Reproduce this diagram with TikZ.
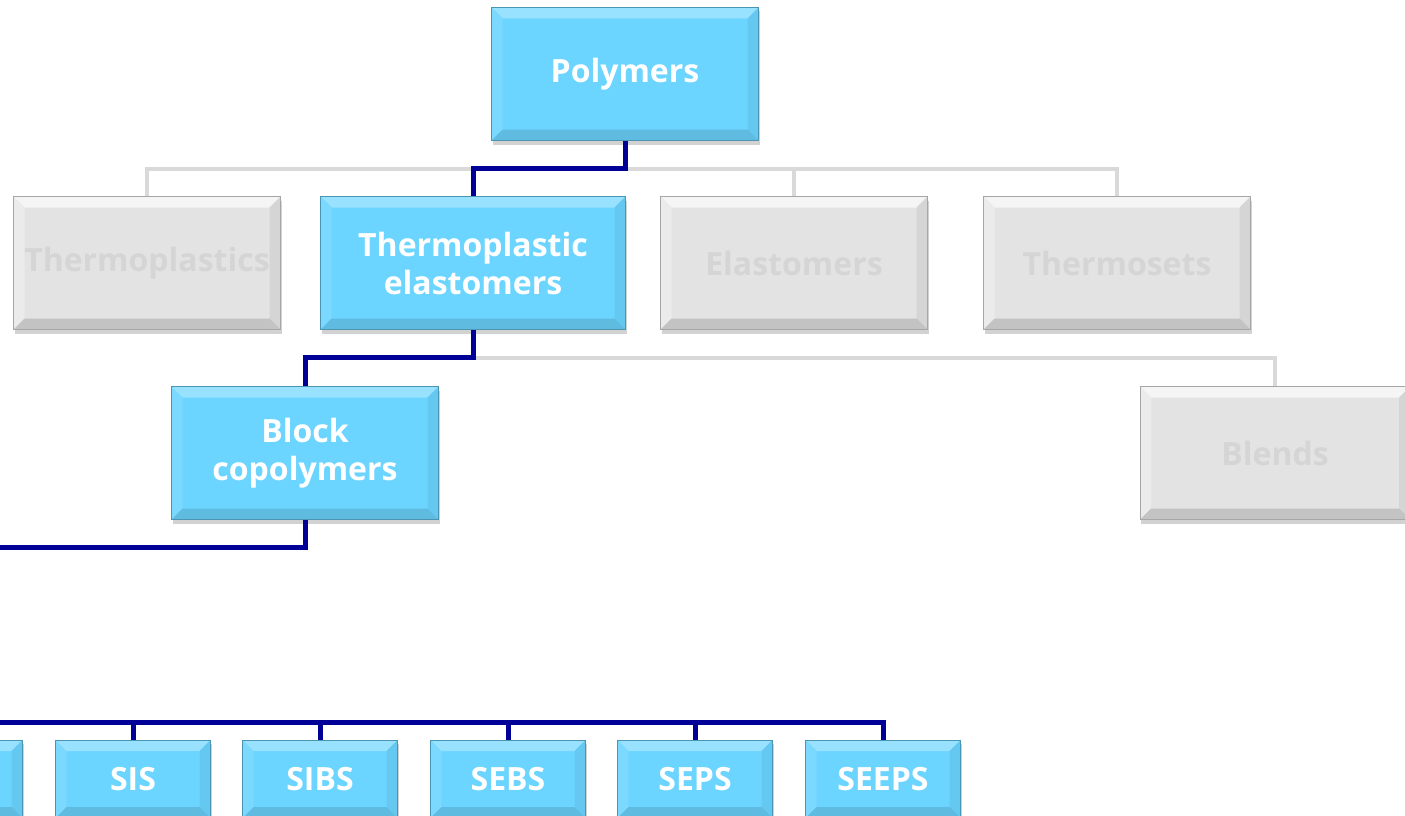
\documentclass[tikz,border=0pt]{standalone}
\usepackage{fontspec}
\setmainfont{Open Sans}
\usetikzlibrary{shadows}

\definecolor{tileblue}{RGB}{108,213,255}
\definecolor{tilegray}{RGB}{227,227,227}
\definecolor{graytext}{RGB}{213,213,213}
\definecolor{navy}{RGB}{0,0,150}
\definecolor{linegray}{RGB}{217,217,217}

\tikzset{
  bevel/.style n args={4}{path picture={
    \coordinate (bnw) at (path picture bounding box.north west);
    \coordinate (bne) at (path picture bounding box.north east);
    \coordinate (bsw) at (path picture bounding box.south west);
    \coordinate (bse) at (path picture bounding box.south east);
    \fill[#1] (bnw) -- (bne) -- ([shift={(-11pt,-11pt)}]bne) -- ([shift={(11pt,-11pt)}]bnw) -- cycle;
    \fill[#2] (bnw) -- ([shift={(11pt,-11pt)}]bnw) -- ([shift={(11pt,11pt)}]bsw) -- (bsw) -- cycle;
    \fill[#3] (bne) -- (bse) -- ([shift={(-11pt,11pt)}]bse) -- ([shift={(-11pt,-11pt)}]bne) -- cycle;
    \fill[#4] (bsw) -- ([shift={(11pt,11pt)}]bsw) -- ([shift={(-11pt,11pt)}]bse) -- (bse) -- cycle;
  }},
  tile/.style={rectangle, minimum width=267pt, minimum height=133pt, align=center,
    font=\bfseries\fontsize{32}{38}\selectfont, line width=0.6pt, inner sep=2pt,
    drop shadow={shadow xshift=1pt, shadow yshift=-4pt, opacity=0.25, fill=black!70}},
  ontile/.style={tile, fill=tileblue, draw=tileblue!70!black, text=white,
    bevel={tileblue!70!white}{tileblue!90!white}{tileblue!94!black}{tileblue!88!black}},
  offtile/.style={tile, fill=tilegray, draw=gray!70, text=graytext,
    bevel={white!96!black}{tilegray!70!white}{tilegray!94!black}{tilegray!86!black}},
  leaf/.style={ontile, minimum width=155pt, minimum height=78pt},
  online/.style={draw=navy, line width=5pt},
  offline/.style={draw=linegray, line width=4pt}
}

\begin{document}
\begin{tikzpicture}[x=1pt, y=-1pt]
  \useasboundingbox (0,0) rectangle (1405,816);
  \clip (0,0) rectangle (1405,816);

  % top levels
  \node[ontile] (poly) at (625,74) {Polymers};
  \node[offtile] (tplast) at (147,263) {Thermoplastics};
  \node[ontile, minimum width=305pt] (tpe) at (473,263) {Thermoplastic\\elastomers};
  \node[offtile] (elast) at (794,263) {Elastomers};
  \node[offtile] (tset) at (1117,263) {Thermosets};

  \node[ontile] (bcp) at (305,453) {Block\\copolymers};
  \node[offtile, minimum width=270pt] (blend) at (1275,453) {Blends};

  % leaves
  \node[leaf] (sbs) at (-55,779) {};
  \node[leaf] (sis) at (133,779) {SIS};
  \node[leaf] (sibs) at (320,779) {SIBS};
  \node[leaf] (sebs) at (508,779) {SEBS};
  \node[leaf] (seps) at (695,779) {SEPS};
  \node[leaf] (seeps) at (883,779) {SEEPS};

  \coordinate (j1) at ([yshift=-28pt]poly.south);
  \coordinate (j2) at ([yshift=-28pt]tpe.south);
  \coordinate (j3) at ([yshift=-28pt]bcp.south);
  \coordinate (j4) at ([yshift=17pt]sbs.north);

  % greyed branches
  \draw[offline] (tplast.north) |- (j1) -| (tset.north);
  \draw[offline] (elast.north) -- (elast.north |- j1);
  \draw[offline] (j2) -| (blend.north);

  % highlighted branches
  \draw[online] (poly.south) -- (j1) -| (tpe.north);
  \draw[online] (tpe.south) -- (j2) -| (bcp.north);
  \draw[online] (bcp.south) -- (j3) -| (sbs.north);
  \draw[online] (j4) -| (seeps.north);
  \foreach \n in {sis,sibs,sebs,seps}
    \draw[online] (\n.north) -- (\n.north |- j4);
\end{tikzpicture}
\end{document}
